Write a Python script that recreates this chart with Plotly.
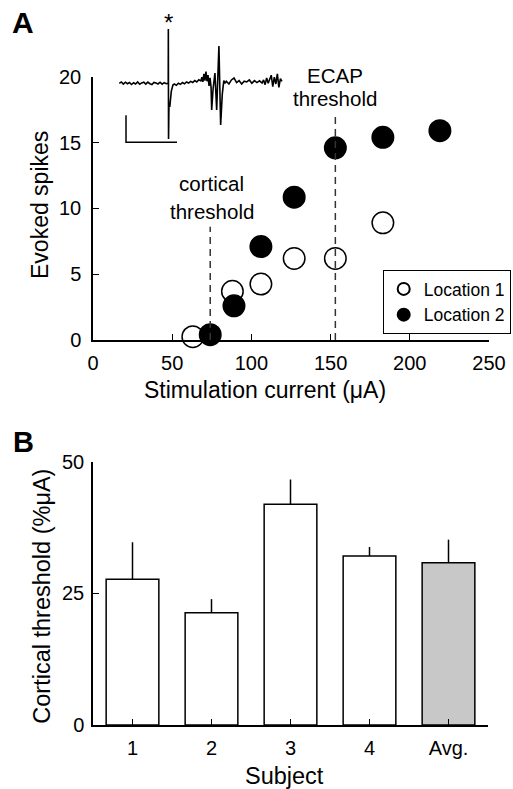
import plotly.graph_objects as go

W, H = 513, 789

# ---------------- Panel A data ----------------
loc1_current = [63, 88, 106, 127, 153, 183]
loc1_spikes = [0.25, 3.7, 4.25, 6.2, 6.2, 8.9]
loc2_current = [74, 89, 106, 127, 153, 183, 219]
loc2_spikes = [0.4, 2.6, 7.1, 10.85, 14.6, 15.4, 15.9]
cortical_threshold = 74
ecap_threshold = 153
xA_ticks = [0, 50, 100, 150, 200, 250]
yA_ticks = [0, 5, 10, 15, 20]

# inset recording (time in ms, voltage in uV)
trace_t = [0.0, 0.2, 0.4, 0.6, 0.8, 1.0, 1.2, 1.4, 1.6, 1.8, 2.0, 2.2, 2.4,
           2.6, 2.8, 3.0, 3.2, 3.4, 3.6, 3.8, 4.0, 4.2, 4.4, 4.6, 4.8,
           4.81, 4.83, 4.87, 4.95, 5.1, 5.26,
           5.4, 5.6, 5.8, 6.0, 6.2, 6.4, 6.6, 6.8, 7.0, 7.2, 7.4, 7.6, 7.8, 8.0,
           8.1, 8.2, 8.3, 8.4, 8.5, 8.6, 8.7, 8.8, 8.9, 9.0,
           9.06, 9.2, 9.38, 9.55, 9.77, 9.94, 10.1, 10.25, 10.36,
           10.5, 10.75, 11.0, 11.25, 11.5, 11.75, 12.0, 12.25, 12.5, 12.75,
           13.0, 13.25, 13.5, 13.75, 14.0,
           14.15, 14.3, 14.45, 14.6, 14.75, 14.9, 15.05, 15.2, 15.35, 15.5,
           15.65, 15.8, 15.95]
trace_uv = [0, 10, -6, 8, -3, 6, -9, 4, -5, 10, -7, 3, 8, -6, 9, -3, -9, 6,
            2, -5, 8, -6, 5, -3, 0,
            402, -412, -160, -175, -60, -13,
            -5, -15, 0, -8, 6, -4, 10, 2, 14, 6, 20, 10, 26, 18,
            45, 10, 70, 20, 86, 15, 60, -20, 40, -30,
            -198, -40, 76, -198, 276, -309, -80, 20, 0,
            15, -5, 25, 40, 5, 20, -5, 15, 10, 25, 0, 20, 5, 18, 2,
            25, -10, 40, 0, 30, 60, -25, 45, -5, 70, -30, 35, 15]
scalebar_ms = 5
scalebar_uv = 200

# ---------------- Panel B data ----------------
subjects = ["1", "2", "3", "4", "Avg."]
thresholds = [27.7, 21.3, 41.9, 32.1, 30.8]
threshold_err = [7.0, 2.6, 4.7, 1.7, 4.4]
bar_colors = ["white", "white", "white", "white", "#c8c8c8"]
yB_ticks = [0, 25, 50]

FONT = "Liberation Sans, Arial, Helvetica, sans-serif"


def px(x):
    return x / W


def py(y):
    return 1 - y / H


fig = go.Figure()

# Panel A scatter
fig.add_trace(go.Scatter(
    x=loc1_current, y=loc1_spikes, mode="markers", name="Location 1",
    marker=dict(size=21.5, color="white", line=dict(color="black", width=1.5)),
    cliponaxis=False, xaxis="x", yaxis="y"))
fig.add_trace(go.Scatter(
    x=loc2_current, y=loc2_spikes, mode="markers", name="Location 2",
    marker=dict(size=21.5, color="black", line=dict(color="black", width=1.5)),
    cliponaxis=False, xaxis="x", yaxis="y"))

# Threshold dashed lines
fig.add_trace(go.Scatter(
    x=[cortical_threshold, cortical_threshold], y=[0, 8.6], mode="lines",
    line=dict(color="#333", width=1.5, dash="7px,5px"), showlegend=False,
    xaxis="x", yaxis="y", hoverinfo="skip"))
fig.add_trace(go.Scatter(
    x=[ecap_threshold, ecap_threshold], y=[0, 17.3], mode="lines",
    line=dict(color="#333", width=1.5, dash="7px,5px"), showlegend=False,
    xaxis="x", yaxis="y", hoverinfo="skip"))

# Inset trace
fig.add_trace(go.Scatter(
    x=trace_t, y=trace_uv, mode="lines",
    line=dict(color="black", width=1.6, simplify=False),
    showlegend=False, xaxis="x3", yaxis="y3", hoverinfo="skip"))
sb_t0, sb_v0 = 0.66, -437
fig.add_trace(go.Scatter(
    x=[sb_t0, sb_t0, sb_t0 + scalebar_ms],
    y=[sb_v0 + scalebar_uv, sb_v0, sb_v0], mode="lines",
    line=dict(color="black", width=1.5), showlegend=False,
    xaxis="x3", yaxis="y3", hoverinfo="skip"))

# Panel B bars
fig.add_trace(go.Bar(
    x=subjects, y=thresholds, width=0.667,
    marker=dict(color=bar_colors, line=dict(color="black", width=1.5)),
    error_y=dict(type="data", symmetric=False, array=threshold_err,
                 arrayminus=[0] * len(threshold_err), width=0,
                 thickness=1.5, color="black"),
    showlegend=False, xaxis="x2", yaxis="y2"))

axis_common = dict(showgrid=False, zeroline=False, showline=True,
                   linecolor="black", linewidth=1.5, ticks="inside",
                   ticklen=6, tickwidth=1.2, tickcolor="black",
                   automargin=False,
                   tickfont=dict(family=FONT, size=20, color="black"))

ann = []


def text(x, y, s, size, **kw):
    d = dict(x=px(x), y=py(y), xref="paper", yref="paper", text=s,
             showarrow=False, font=dict(family=FONT, size=size, color="black"),
             xanchor="center", yanchor="middle")
    d.update(kw)
    ann.append(d)


text(22.5, 23, "<b>A</b>", 30)
text(23, 442, "<b>B</b>", 29)
text(168.5, 22, "*", 24)
text(211.7, 183, "cortical", 20.5)
text(211.7, 211.7, "threshold", 20.5)
text(335, 75, "ECAP", 20.5)
text(335, 98, "threshold", 20.5)
text(264.7, 390, "Stimulation current (\u03bcA)", 23)
text(40, 205, "Evoked spikes", 23, textangle=-90)
text(41.7, 596, "Cortical threshold (%\u03bcA)", 23.5, textangle=-90)
text(284, 776, "Subject", 23.5)

fig.update_layout(
    width=W, height=H, autosize=False,
    margin=dict(l=0, r=0, t=0, b=0, pad=0),
    paper_bgcolor="white", plot_bgcolor="white",
    font=dict(family=FONT, color="black"),
    showlegend=True,
    legend=dict(x=px(510.7), y=py(270), xanchor="right", yanchor="top",
                bordercolor="black", borderwidth=1, bgcolor="white",
                font=dict(family=FONT, size=17.5, color="black"),
                tracegroupgap=0, itemsizing="constant"),
    xaxis=dict(domain=[px(93), px(489)], range=[0, 250], tickvals=xA_ticks,
               anchor="y", ticklabelstandoff=4, **axis_common),
    yaxis=dict(domain=[py(340), py(76.7)], range=[0, 20], tickvals=yA_ticks,
               anchor="x", ticklabelstandoff=6, **axis_common),
    xaxis2=dict(domain=[px(93), px(488)], range=[-0.5, 4.5], type="category",
                anchor="y2", ticklabelstandoff=4, **axis_common),
    yaxis2=dict(domain=[py(725), py(461.7)], range=[0, 50], tickvals=yB_ticks,
                anchor="x2", ticklabelstandoff=3, **axis_common),
    xaxis3=dict(domain=[px(115), px(290)], range=[-0.42, 16.74],
                anchor="y3", visible=False, automargin=False),
    yaxis3=dict(domain=[py(150), py(25)], range=[-493.6, 431.4],
                anchor="x3", visible=False, automargin=False),
    annotations=ann,
)

fig.write_html("out.html", config={"displayModeBar": False},
               post_script="document.body.style.margin='0';")
